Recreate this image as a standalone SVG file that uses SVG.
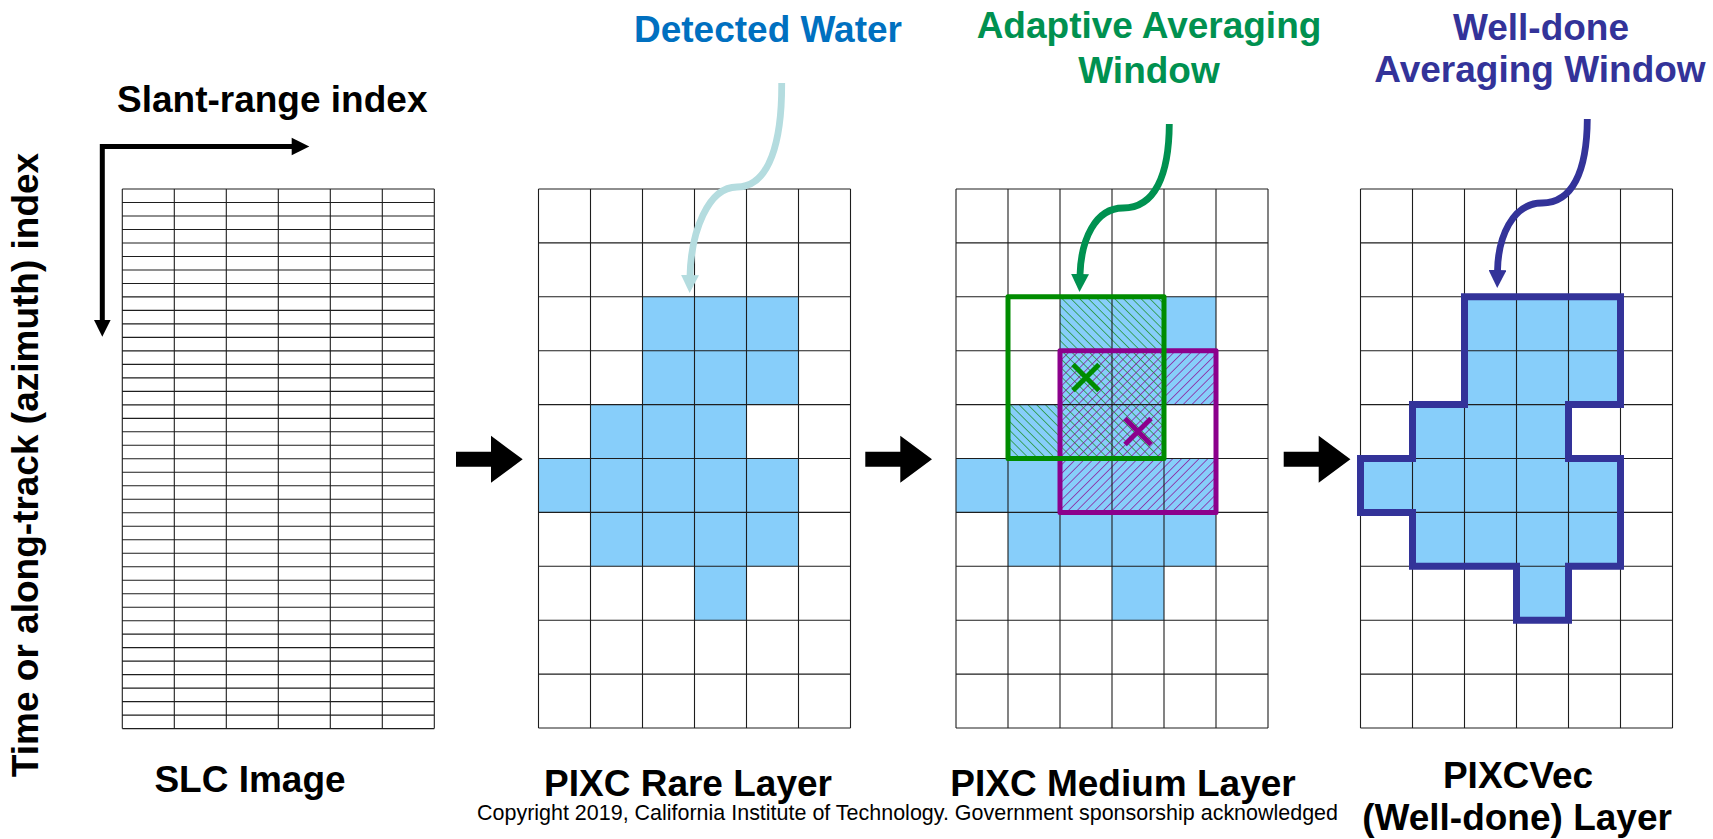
<svg xmlns="http://www.w3.org/2000/svg" xmlns:xlink="http://www.w3.org/1999/xlink" width="1713" height="839" viewBox="0 0 1713 839">
<style>
.lbl{font-family:"Liberation Sans",Arial,Helvetica,sans-serif;font-weight:bold;font-size:37px;text-anchor:middle;fill:#000}
.grid{fill:none;stroke:#1e1e1e;stroke-width:1.1}
.water{fill:#87CEFA;stroke:none}
.blk{fill:#000}
.axis{fill:none;stroke:#000;stroke-width:5}
.call{fill:none;stroke-width:6.8;stroke-linecap:butt}
.win{fill:none;stroke-width:5;stroke-linejoin:round}
.xm{stroke-width:5;stroke-linecap:butt}
</style>
<defs>
<path id="g10" d="M0 0v539m52-539v539m52-539v539m52-539v539m52-539v539m52-539v539m52-539v539M0 0h312m-312 53.9h312m-312 53.9h312m-312 53.9h312m-312 53.9h312m-312 53.9h312m-312 53.9h312m-312 53.9h312m-312 53.9h312m-312 53.9h312m-312 53.9h312"/>
<path id="wshape" d="M104 107.8H260V215.6H208V269.5H260V377.3H208V431.2H156V377.3H52V323.4H0V269.5H52V215.6H104Z"/>
<polygon id="barrow" points="0,-7.5 35,-7.5 35,-23.5 66.7,0 35,23.5 35,7.5 0,7.5"/>
<pattern id="hatchG" width="6.2" height="6.2" patternUnits="userSpaceOnUse" patternTransform="rotate(-45)">
<line x1="0" y1="-1" x2="0" y2="7.2" stroke="#128a12" stroke-width="1.3"/>
</pattern>
<pattern id="hatchP" width="6.2" height="6.2" patternUnits="userSpaceOnUse" patternTransform="rotate(45)">
<line x1="0" y1="-1" x2="0" y2="7.2" stroke="#8c008c" stroke-width="1.3"/>
</pattern>
<marker id="mTeal" viewBox="0 0 18 18" refX="1" refY="9" markerWidth="18" markerHeight="18" markerUnits="userSpaceOnUse" orient="auto"><path d="M0 0L18 9L0 18Z" fill="#B4DCDF"/></marker>
<marker id="mGreen" viewBox="0 0 18 18" refX="1" refY="9" markerWidth="18" markerHeight="18" markerUnits="userSpaceOnUse" orient="auto"><path d="M0 0L18 9L0 18Z" fill="#009150"/></marker>
<marker id="mNavy" viewBox="0 0 18 18" refX="1" refY="9" markerWidth="18" markerHeight="18" markerUnits="userSpaceOnUse" orient="auto"><path d="M0 0L18 9L0 18Z" fill="#333399"/></marker>
</defs>

<rect width="1713" height="839" fill="#fff"/>

<g id="axes">
<path class="axis" d="M102.3 321V146.5H293"/>
<polygon class="blk" points="291.7,137.8 309.3,146.5 291.7,155.2"/>
<polygon class="blk" points="94,320 110.6,320 102.3,336.7"/>
<text class="lbl" x="117" y="112" style="text-anchor:start">Slant-range index</text>
<text class="lbl" transform="translate(38,465) rotate(-90)">Time or along-track (azimuth) index</text>
</g>

<g id="slc-image">
<path class="grid" d="M122.3 189v539.6m52-539.6v539.6m52-539.6v539.6m52-539.6v539.6m52-539.6v539.6m52-539.6v539.6m52-539.6v539.6M122.3 189h312m-312 13.49h312m-312 13.49h312m-312 13.49h312m-312 13.49h312m-312 13.49h312m-312 13.49h312m-312 13.49h312m-312 13.49h312m-312 13.49h312m-312 13.49h312m-312 13.49h312m-312 13.49h312m-312 13.49h312m-312 13.49h312m-312 13.49h312m-312 13.49h312m-312 13.49h312m-312 13.49h312m-312 13.49h312m-312 13.49h312m-312 13.49h312m-312 13.49h312m-312 13.49h312m-312 13.49h312m-312 13.49h312m-312 13.49h312m-312 13.49h312m-312 13.49h312m-312 13.49h312m-312 13.49h312m-312 13.49h312m-312 13.49h312m-312 13.49h312m-312 13.49h312m-312 13.49h312m-312 13.49h312m-312 13.49h312m-312 13.49h312m-312 13.49h312m-312 13.49h312"/>
<text class="lbl" x="250" y="792">SLC Image</text>
</g>

<g id="pixc-rare">
<use xlink:href="#wshape" class="water" transform="translate(538.5,189)"/>
<use xlink:href="#g10" class="grid" transform="translate(538.5,189)"/>
<text class="lbl" x="688" y="796">PIXC Rare Layer</text>
</g>

<g id="pixc-medium">
<use xlink:href="#wshape" class="water" transform="translate(956,189)"/>
<path fill="url(#hatchG)" d="M1060 296.8H1164V458.5H1008V404.6H1060Z"/>
<path fill="url(#hatchP)" d="M1060 350.7H1216V404.6H1164V458.5H1216V512.4H1060Z"/>
<use xlink:href="#g10" class="grid" transform="translate(956,189)"/>
<rect class="win" x="1060" y="350.7" width="156" height="161.7" stroke="#8c008c"/>
<rect class="win" x="1008" y="296.8" width="156" height="161.7" stroke="#008c00"/>
<path class="xm" stroke="#008c00" d="M1073 364.6L1099 390.6M1099 364.6L1073 390.6"/>
<path class="xm" stroke="#8c008c" d="M1125 418.5L1151 444.5M1151 418.5L1125 444.5"/>
<text class="lbl" x="1123" y="796">PIXC Medium Layer</text>
</g>

<g id="pixcvec">
<use xlink:href="#wshape" class="water" transform="translate(1360.5,189)"/>
<use xlink:href="#g10" class="grid" transform="translate(1360.5,189)"/>
<use xlink:href="#wshape" transform="translate(1360.5,189)" style="fill:none;stroke:#333399;stroke-width:7;stroke-linejoin:miter"/>
<text class="lbl" x="1518" y="788">PIXCVec</text>
<text class="lbl" x="1517" y="829.5">(Well-done) Layer</text>
</g>

<g id="label-detected-water">
<text class="lbl" x="768" y="41.7" style="fill:#0070C0">Detected Water</text>
</g>
<g id="label-adaptive-window">
<text class="lbl" x="1149" y="37.5" style="fill:#009150">Adaptive Averaging</text>
<text class="lbl" x="1149" y="82.5" style="fill:#009150">Window</text>
</g>
<g id="label-welldone-window">
<text class="lbl" x="1541" y="39.5" style="fill:#333399">Well-done</text>
<text class="lbl" x="1540" y="81.7" style="fill:#333399">Averaging Window</text>
</g>

<g id="connectors">
<use xlink:href="#barrow" class="blk" transform="translate(456,459.3)"/>
<use xlink:href="#barrow" class="blk" transform="translate(865.3,459.3)"/>
<use xlink:href="#barrow" class="blk" transform="translate(1283.7,459.3)"/>
<path class="call" stroke="#B4DCDF" marker-end="url(#mTeal)" d="M781.7 83C782 140 770 187 737 187C708 187 691 232 690 276"/>
<path class="call" stroke="#009150" marker-end="url(#mGreen)" d="M1169.3 124C1169 175 1155 208 1123 208C1095 208 1081 240 1080 275"/>
<path class="call" stroke="#333399" marker-end="url(#mNavy)" d="M1587.3 119C1587 172 1572 203 1542 203C1512 203 1498 238 1497.5 271"/>
</g>

<text id="copyright" x="477" y="820" textLength="861" lengthAdjust="spacingAndGlyphs" style="font-family:'Liberation Sans',Arial,sans-serif;font-size:21.3px;fill:#000">Copyright 2019, California Institute of Technology. Government sponsorship acknowledged</text>
</svg>
